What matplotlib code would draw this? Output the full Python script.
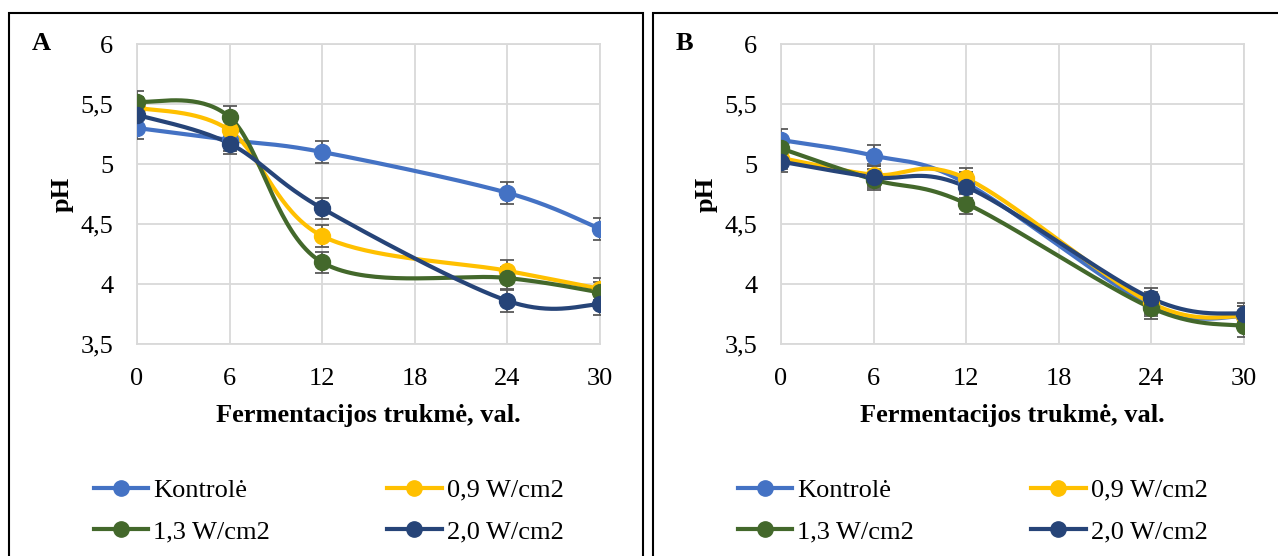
import numpy as np
import matplotlib
matplotlib.use("Agg")
import matplotlib.pyplot as plt
from matplotlib.lines import Line2D
from matplotlib.patches import Rectangle

plt.rcParams['font.family'] = ['Liberation Serif', 'DejaVu Serif']

hours = [0, 6, 12, 24, 30]
series_names = ["Kontrolė", "0,9 W/cm2", "1,3 W/cm2", "2,0 W/cm2"]
colors = ["#4472C4", "#FFC000", "#43682B", "#264478"]

ph_A_kontrole = [5.30, 5.20, 5.10, 4.76, 4.46]
ph_A_09 = [5.47, 5.28, 4.40, 4.11, 3.96]
ph_A_13 = [5.52, 5.39, 4.18, 4.05, 3.93]
ph_A_20 = [5.41, 5.17, 4.63, 3.86, 3.83]

ph_B_kontrole = [5.20, 5.07, 4.84, 3.82, 3.73]
ph_B_09 = [5.05, 4.91, 4.88, 3.84, 3.73]
ph_B_13 = [5.13, 4.87, 4.67, 3.80, 3.65]
ph_B_20 = [5.02, 4.89, 4.81, 3.88, 3.75]

err = 0.09

xticks = [0, 6, 12, 18, 24, 30]
yticks = [3.5, 4, 4.5, 5, 5.5, 6]
ytick_labels = ["3,5", "4", "4,5", "5", "5,5", "6"]

FS = 19
W, H = 1278, 556
fig = plt.figure(figsize=(W / 100, H / 100), dpi=100)


def smooth(x, y, n=40):
    x = np.asarray(x, float)
    y = np.asarray(y, float)
    P = np.column_stack([x, y])
    m = len(P)
    out = []
    for i in range(m - 1):
        p0 = P[i - 1] if i > 0 else P[i]
        p1 = P[i]
        p2 = P[i + 1]
        p3 = P[i + 2] if i + 2 < m else P[i + 1]
        c1 = p1 + (p2 - p0) / 6.0
        c2 = p2 - (p3 - p1) / 6.0
        t = np.linspace(0, 1, n)[:, None]
        b = ((1 - t) ** 3) * p1 + 3 * ((1 - t) ** 2) * t * c1 + 3 * (1 - t) * t ** 2 * c2 + t ** 3 * p2
        out.append(b if i == 0 else b[1:])
    out = np.vstack(out)
    return out[:, 0], out[:, 1]


def px_axes(x0, y0, x1, y1):
    return [x0 / W, 1 - y1 / H, (x1 - x0) / W, (y1 - y0) / H]


def panel(left, label, data):
    width = 634 if label == "A" else 700
    fig.patches.append(Rectangle((left / W, -0.1), width / W,
                                 (1 - 13 / H) + 0.1, transform=fig.transFigure,
                                 fill=False, edgecolor="black", linewidth=1.5))
    ax = fig.add_axes(px_axes(left + 128, 44, left + 591, 344))
    for name, col, vals in zip(series_names, colors, data):
        sx, sy = smooth(hours, vals)
        ax.plot(sx, sy, color=col, lw=3, solid_capstyle='round', zorder=3)
        ax.errorbar(hours, vals, yerr=err, fmt='none', ecolor="#595959",
                    elinewidth=1.3, capsize=5, capthick=1.3, zorder=4)
        ax.plot(hours, vals, 'o', color=col, ms=11.5, zorder=5)
    ax.set_xlim(0, 30)
    ax.set_ylim(3.5, 6)
    ax.set_xticks(xticks)
    ax.set_yticks(yticks)
    ax.set_yticklabels(ytick_labels)
    ax.tick_params(axis='x', length=0, labelsize=FS, pad=17)
    ax.tick_params(axis='y', length=0, labelsize=FS, pad=17)
    ax.grid(True, color="#d9d9d9", lw=1.3)
    ax.set_axisbelow(True)
    for s in ax.spines.values():
        s.set_color("#d9d9d9")
        s.set_linewidth(1.3)
    ax.set_xlabel("Fermentacijos trukmė, val.", fontsize=FS, fontweight='bold', labelpad=10.5)
    ax.set_ylabel("pH", fontsize=FS, fontweight='bold', labelpad=5)
    fig.text((left + 23) / W, 1 - 43 / H, label, fontsize=FS, fontweight='bold',
             ha='left', va='center')
    order = [0, 2, 1, 3]
    handles = [Line2D([], [], color=colors[i], lw=3, marker='o', ms=11) for i in order]
    labels = [series_names[i] for i in order]
    fig.legend(handles, labels, ncol=2, loc='center left',
               bbox_to_anchor=((left + 85) / W, 1 - 511 / H),
               frameon=False, fontsize=FS, handlelength=2.05, handletextpad=0.19,
               columnspacing=4.45, labelspacing=0.7, borderpad=0, borderaxespad=0)
    return ax


panel(9, "A", [ph_A_kontrole, ph_A_09, ph_A_13, ph_A_20])
panel(653, "B", [ph_B_kontrole, ph_B_09, ph_B_13, ph_B_20])

fig.savefig("out.png", dpi=100)
